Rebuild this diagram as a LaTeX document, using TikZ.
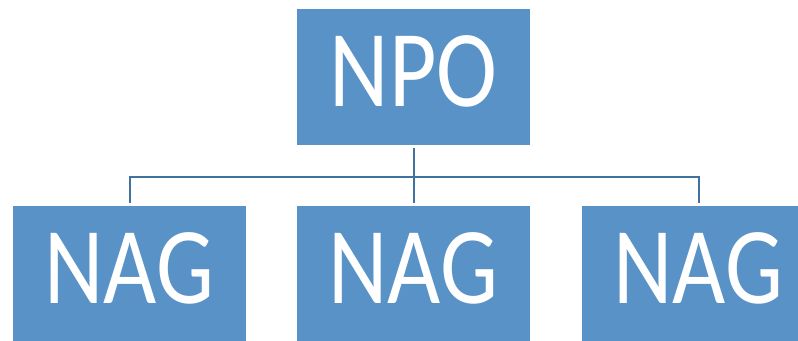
\documentclass[tikz,border=0pt]{standalone}
\usepackage{fontspec}
\setmainfont{Carlito}[FakeStretch=0.84]
\usetikzlibrary{positioning}
\definecolor{boxblue}{RGB}{89,146,198}
\definecolor{lineblue}{RGB}{65,113,158}
\tikzset{orgbox/.style = {rectangle, fill=boxblue, text=white, minimum width=174.75pt, minimum height=102pt, inner sep=0pt, outer sep=2.25pt, text depth=9pt, font=\fontsize{82}{82}\selectfont},
         link/.style = {draw=lineblue, line width=1.5pt}}

\begin{document}
\begin{tikzpicture}[x=0.75pt, y=0.75pt]
\useasboundingbox (0,0) rectangle (798,-341);

% Nodes / blocks
\node (npo) [orgbox] at (413.5,-77) {NPO};
\node (nag2) [orgbox, below=147.75pt of npo.center, anchor=center] {NAG};
\node (nag1) [orgbox, left=213pt of nag2.center, anchor=center] {NAG};
\node (nag3) [orgbox, right=213.75pt of nag2.center, anchor=center] {NAG};

% Connectors
\draw [link] (npo.south) -- (nag2.north);
\draw [link] (nag1.north) -- ++(0,26) -| (nag3.north);

\end{tikzpicture}
\end{document}
